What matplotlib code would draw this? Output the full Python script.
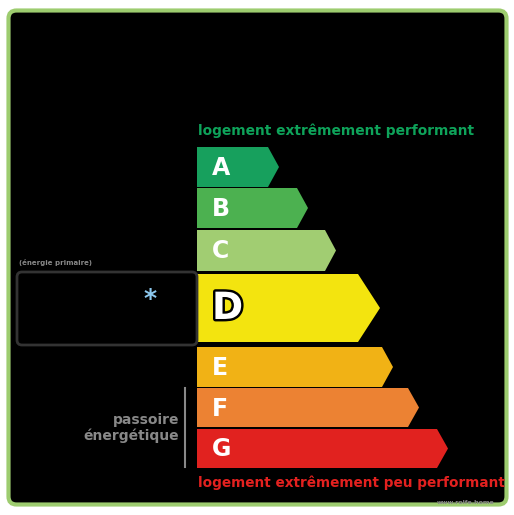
import matplotlib
matplotlib.use("Agg")
import matplotlib.pyplot as plt
from matplotlib.patches import Polygon, FancyBboxPatch
import matplotlib.patheffects as pe

# ---- data ----
classes = ["A", "B", "C", "D", "E", "F", "G"]
bar_lengths = [71, 100, 128, 161, 185, 211, 240]      # length of rectangular body (px units)
bar_colors = ["#17a05d", "#4cb150", "#a1cd72", "#f3e40f", "#f1b215", "#ec8233", "#e1221f"]
top_label = "logement extrêmement performant"
bottom_label = "logement extrêmement peu performant"
side_label = "passoire\nénergétique"
box_label = "(énergie primaire)"
credit = "www.rolfe.home"

# ---- layout ----
W, H = 514, 515
fig = plt.figure(figsize=(W / 100, H / 100), dpi=100)
fig.patch.set_facecolor("white")
ax = fig.add_axes([0, 0, 1, 1])
ax.set_xlim(0, W)
ax.set_ylim(H, 0)
ax.axis("off")

frame = FancyBboxPatch((8.5, 10.5), 498, 494, boxstyle="round,pad=0,rounding_size=8",
                       facecolor="black", edgecolor="#9dcc6f", linewidth=3)
ax.add_patch(frame)

x0 = 197
tops = [147, 188, 230, 274, 347, 388, 429]
heights = [40, 40, 41, 68, 40, 39, 39]
for i, (c, L, col) in enumerate(zip(classes, bar_lengths, bar_colors)):
    y0 = tops[i]
    h = heights[i]
    tip = 11 if c != "D" else 22
    pts = [(x0, y0), (x0 + L, y0), (x0 + L + tip, y0 + h / 2), (x0 + L, y0 + h), (x0, y0 + h)]
    ax.add_patch(Polygon(pts, closed=True, facecolor=col, edgecolor="none"))
    if c == "D":
        ax.text(x0 + 15, y0 + h / 2 + 1, c, color="white", fontsize=27, fontweight="bold",
                ha="left", va="center",
                path_effects=[pe.withStroke(linewidth=3.5, foreground="black")])
    else:
        ax.text(x0 + 15, y0 + h / 2 + 1, c, color="white", fontsize=17, fontweight="bold",
                ha="left", va="center")

ax.text(198, 131, top_label, color="#0ea35a", fontsize=9.9, fontweight="bold",
        ha="left", va="center")
ax.text(198, 483, bottom_label, color="#e3211f", fontsize=9.8, fontweight="bold",
        ha="left", va="center")
ax.text(495, 503, credit, color="#888888", fontsize=4.5, fontweight="bold",
        ha="right", va="center")

# energy box
box = FancyBboxPatch((17, 272), 180, 73, boxstyle="round,pad=0,rounding_size=5",
                     facecolor="black", edgecolor="#333333", linewidth=2)
ax.add_patch(box)
ax.text(19, 263, box_label, color="#888888", fontsize=5, fontweight="bold",
        ha="left", va="center")
ax.text(150, 299, "*", color="#8cc8ee", fontsize=18, fontweight="bold",
        ha="center", va="center")

# passoire
ax.plot([185, 185], [388, 467], color="#888888", linewidth=1.5)
ax.text(179, 428, side_label, color="#888888", fontsize=10, fontweight="bold",
        ha="right", va="center", linespacing=1.2)

fig.savefig("out.png", dpi=100, facecolor="white")
